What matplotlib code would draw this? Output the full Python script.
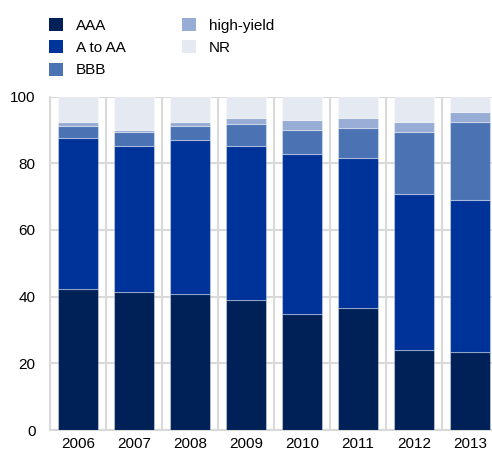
import numpy as np
import matplotlib
matplotlib.use("Agg")
import matplotlib.pyplot as plt
from matplotlib.patches import Patch

plt.rcParams['font.family'] = ['Liberation Sans', 'DejaVu Sans']

# data (cumulative tops, converted to segment sizes)
years = ['2006', '2007', '2008', '2009', '2010', '2011', '2012', '2013']
aaa = [42.4, 41.3, 40.7, 38.9, 34.7, 36.5, 23.9, 23.3]
a_to_aa = [45.2, 43.9, 46.3, 46.3, 48.1, 45.1, 47.0, 45.8]
bbb = [3.6, 4.2, 4.2, 6.6, 7.2, 9.0, 18.5, 23.3]
high_yield = [1.2, 0.6, 1.2, 1.8, 3.0, 3.0, 3.0, 3.0]
nr = [7.6, 10.0, 7.6, 6.4, 7.0, 6.4, 7.6, 4.6]

labels = ['AAA', 'A to AA', 'BBB', 'high-yield', 'NR']
colors = ['#002157', '#003399', '#4b73b4', '#98add5', '#e4e9f2']
series = [aaa, a_to_aa, bbb, high_yield, nr]

fig = plt.figure(figsize=(4.92, 4.54), dpi=100)
ax = fig.add_axes([50 / 492, 24 / 454, 448 / 492, 333.5 / 454])

x = np.arange(len(years))
bottom = np.zeros(len(years))
for vals, c in zip(series, colors):
    ax.bar(x, vals, width=0.71, bottom=bottom, color=c,
           edgecolor=(1, 1, 1, 0.35), linewidth=0.8, zorder=3)
    bottom += np.array(vals)

ax.set_xlim(-0.5, len(years) - 0.5)
ax.set_ylim(0, 100)
ax.set_yticks(range(0, 101, 20))
ax.set_xticks(x)
ax.set_xticklabels(years)
ax.set_xticks(np.arange(-0.5, len(years)), minor=True)

grid_c = '#d9d9d9'
ax.grid(axis='y', which='major', color=grid_c, linewidth=1.5, zorder=0)
ax.grid(axis='x', which='minor', color=grid_c, linewidth=1.5, zorder=0)
ax.tick_params(axis='both', which='both', length=0, labelsize=11, colors='#000000')
ax.tick_params(axis='y', pad=10.5)
ax.tick_params(axis='x', pad=5)
for s in ['top', 'right']:
    ax.spines[s].set_visible(False)
for s in ['left', 'bottom']:
    ax.spines[s].set_color(grid_c)
    ax.spines[s].set_linewidth(1.5)

handles = [Patch(facecolor=c, edgecolor='none') for c in colors]
fig.legend(handles, labels, loc='upper left', bbox_to_anchor=(43 / 492, 1 - 12 / 454),
           ncol=2, frameon=False, fontsize=11, handlelength=0.92, handleheight=0.92,
           handletextpad=0.85, labelspacing=0.5, columnspacing=3.65, borderaxespad=0)

fig.savefig('out.png', dpi=100)
